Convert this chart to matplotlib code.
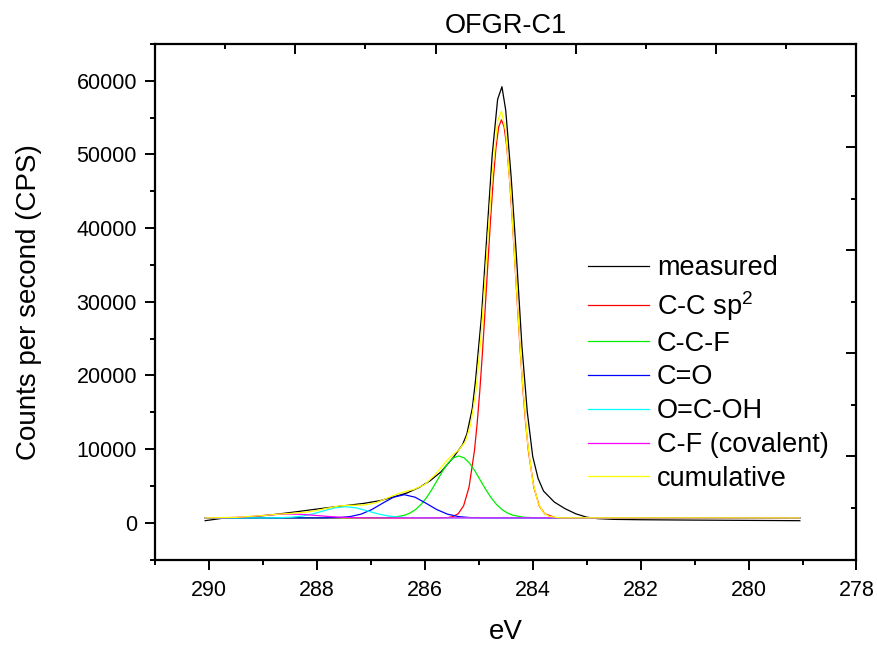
import matplotlib
matplotlib.use('Agg')
import matplotlib.pyplot as plt
from matplotlib.ticker import MultipleLocator

plt.rcParams['font.family'] = ['Liberation Sans', 'DejaVu Sans']
plt.rcParams['mathtext.fontset'] = 'custom'
plt.rcParams['mathtext.rm'] = 'Liberation Sans'

# measured spectrum
measured_ev = [290.07, 289.7, 289.3, 288.8, 288.37, 288.0, 287.75, 287.4, 287.13, 286.83,
               286.6, 286.33, 286.1, 285.9, 285.7, 285.47, 285.3, 285.22, 285.12, 285.06,
               284.95, 284.85, 284.75, 284.65, 284.57, 284.5, 284.4, 284.3, 284.2, 284.1,
               284.0, 283.9, 283.8, 283.6, 283.4, 283.2, 283.0, 282.8, 282.5, 282.0,
               281.0, 280.0, 279.05]
measured_cps = [270, 650, 720, 1100, 1490, 1850, 2080, 2380, 2620, 2990,
                3450, 4030, 4800, 5700, 6900, 8870, 10600, 12050, 15500, 19300,
                28000, 39000, 50000, 57500, 59200, 56000, 47000, 36000, 24000, 15000,
                9000, 6000, 4300, 2800, 1900, 1200, 750, 550, 450, 400,
                350, 310, 270]

# fitted components
ccsp2_ev = [290.07, 285.78, 285.58, 285.48, 285.38, 285.28, 285.18, 285.08, 285.03, 284.98,
            284.93, 284.88, 284.83, 284.78, 284.73, 284.68, 284.63, 284.58, 284.53, 284.48,
            284.43, 284.38, 284.33, 284.28, 284.23, 284.18, 284.13, 284.08, 283.98, 283.88,
            283.78, 283.58, 283.38, 279.05]
ccsp2_cps = [650, 650, 690, 820, 1220, 2300, 4820, 9760, 13430, 17950,
             23240, 29130, 35290, 41300, 46700, 50990, 53750, 54700, 53750, 50990,
             46700, 41300, 35290, 29130, 23240, 17950, 13430, 9760, 4820, 2300,
             1220, 690, 650, 650]

ccf_ev = [290.07, 286.77, 286.57, 286.37, 286.27, 286.17, 286.07, 285.97, 285.87, 285.77,
          285.67, 285.57, 285.47, 285.37, 285.27, 285.17, 285.07, 284.97, 284.87, 284.77,
          284.67, 284.57, 284.47, 284.37, 284.17, 283.97, 279.05]
ccf_cps = [650, 670, 740, 1020, 1320, 1790, 2470, 3380, 4500, 5750,
           7000, 8070, 8800, 9060, 8800, 8070, 7000, 5750, 4500, 3380,
           2470, 1790, 1320, 1020, 740, 670, 650]

co_ev = [290.07, 287.88, 287.58, 287.38, 287.18, 286.98, 286.78, 286.58, 286.38, 286.18,
         285.98, 285.78, 285.58, 285.38, 285.18, 284.88, 279.05]
co_cps = [650, 650, 700, 835, 1160, 1790, 2650, 3460, 3800, 3460,
          2650, 1790, 1160, 835, 700, 650, 650]

ocoh_ev = [290.07, 288.97, 288.67, 288.47, 288.27, 288.07, 287.87, 287.67, 287.47, 287.27,
           287.07, 286.87, 286.67, 286.47, 286.27, 285.97, 279.05]
ocoh_cps = [650, 650, 676, 740, 900, 1200, 1615, 2010, 2170, 2010,
            1615, 1200, 900, 740, 676, 650, 650]

cf_ev = [290.07, 290.0, 289.75, 289.5, 289.25, 289.0, 288.75, 288.5, 288.25, 288.0,
         287.75, 287.5, 287.25, 287.0, 286.5, 279.05]
cf_cps = [653, 660, 673, 722, 822, 971, 1118, 1180, 1118, 971,
          822, 722, 673, 660, 650, 650]

cum_ev = [290.07, 289.5, 289.0, 288.7, 288.5, 288.2, 288.0, 287.8, 287.6, 287.47,
          287.3, 287.1, 286.9, 286.7, 286.5, 286.38, 286.2, 286.0, 285.8, 285.6,
          285.5, 285.37, 285.25, 285.15, 285.05, 284.95, 284.85, 284.75, 284.65, 284.58,
          284.5, 284.4, 284.3, 284.2, 284.1, 284.0, 283.9, 283.8, 283.7, 283.5, 279.05]
cum_cps = [653, 722, 973, 1160, 1255, 1429, 1657, 1975, 2250, 2343,
           2366, 2416, 2719, 3322, 3936, 4198, 4516, 5175, 6582, 8375,
           9108, 9870, 10984, 13271, 17989, 25877, 36423, 47180, 54515, 55896,
           53085, 44005, 31815, 20107, 11185, 5603, 2660, 1359, 868, 660, 650]

series = [
    (measured_ev, measured_cps, 'measured', 'black'),
    (ccsp2_ev, ccsp2_cps, 'C-C sp$^\\mathregular{2}$', '#ff0000'),
    (ccf_ev, ccf_cps, 'C-C-F', '#00ee00'),
    (co_ev, co_cps, 'C=O', '#0000ff'),
    (ocoh_ev, ocoh_cps, 'O=C-OH', '#00ffff'),
    (cf_ev, cf_cps, 'C-F (covalent)', '#ff00ff'),
    (cum_ev, cum_cps, 'cumulative', '#ffff00'),
]

fig = plt.figure(figsize=(8.78, 6.49), dpi=100)
ax = fig.add_axes([0.1765, 0.1379, 0.799, 0.7943])

for xs, ys, lab, col in series:
    ax.plot(xs, ys, color=col, lw=0.9, label=lab)

ax.set_xlim(291, 278)
ax.set_ylim(-5000, 65000)
ax.xaxis.set_major_locator(MultipleLocator(2))
ax.xaxis.set_minor_locator(MultipleLocator(1))
ax.yaxis.set_major_locator(MultipleLocator(10000))
ax.yaxis.set_minor_locator(MultipleLocator(5000))
ax.tick_params(which='both', direction='out', width=1.4, labelsize=15.5,
               top=False, right=False)
ax.tick_params(which='major', length=7)
ax.tick_params(which='minor', length=3.5)
ax.tick_params(axis='x', which='major', pad=8)
ax.tick_params(axis='y', which='major', pad=6)
for s in ax.spines.values():
    s.set_linewidth(1.6)

# top and right frame ticks (independent 5-division scale)
ax2 = fig.add_axes(ax.get_position(), frameon=False)
ax2.set_xlim(0, 5)
ax2.set_ylim(0, 5)
ax2.xaxis.set_major_locator(MultipleLocator(1))
ax2.xaxis.set_minor_locator(MultipleLocator(0.5))
ax2.yaxis.set_major_locator(MultipleLocator(1))
ax2.yaxis.set_minor_locator(MultipleLocator(0.5))
ax2.tick_params(which='both', direction='in', width=1.4, top=True, right=True,
                bottom=False, left=False, labelbottom=False, labelleft=False)
ax2.tick_params(which='major', length=7)
ax2.tick_params(which='minor', length=3.5)
ax2.patch.set_visible(False)

ax.set_title('OFGR-C1', fontsize=19.5, pad=8)
ax.set_xlabel('eV', fontsize=20, labelpad=13)
ax.set_ylabel('Counts per second (CPS)', fontsize=20, labelpad=25)

ax.legend(loc='upper left', bbox_to_anchor=(588 / 878, 1 - 255 / 649),
          bbox_transform=fig.transFigure, frameon=False, fontsize=19.5,
          borderpad=0, borderaxespad=0, handlelength=2.25, handletextpad=0.3,
          labelspacing=0.29)

plt.savefig('out.png', dpi=100)
